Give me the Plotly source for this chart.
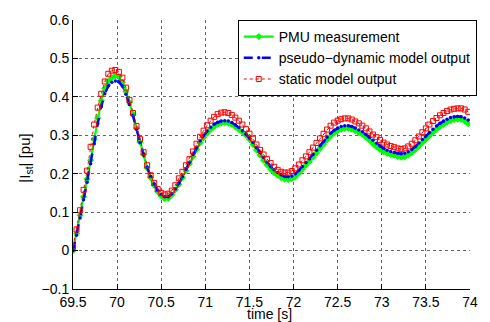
import plotly.graph_objects as go

time_s = [69.50, 69.54, 69.58, 69.62, 69.66, 69.70, 69.74, 69.78, 69.82, 69.86,
          69.90, 69.94, 69.98, 70.02, 70.06, 70.10, 70.14, 70.18, 70.22, 70.26,
          70.30, 70.34, 70.38, 70.42, 70.46, 70.50, 70.54, 70.58, 70.62, 70.66,
          70.70, 70.74, 70.78, 70.82, 70.86, 70.90, 70.94, 70.98, 71.02, 71.06,
          71.10, 71.14, 71.18, 71.22, 71.26, 71.30, 71.34, 71.38, 71.42, 71.46,
          71.50, 71.54, 71.58, 71.62, 71.66, 71.70, 71.74, 71.78, 71.82, 71.86,
          71.90, 71.94, 71.98, 72.02, 72.06, 72.10, 72.14, 72.18, 72.22, 72.26,
          72.30, 72.34, 72.38, 72.42, 72.46, 72.50, 72.54, 72.58, 72.62, 72.66,
          72.70, 72.74, 72.78, 72.82, 72.86, 72.90, 72.94, 72.98, 73.02, 73.06,
          73.10, 73.14, 73.18, 73.22, 73.26, 73.30, 73.34, 73.38, 73.42, 73.46,
          73.50, 73.54, 73.58, 73.62, 73.66, 73.70, 73.74, 73.78, 73.82, 73.86,
          73.90, 73.94, 73.98]

pmu = [0.000, 0.045, 0.092, 0.140, 0.186, 0.235, 0.290, 0.345, 0.390, 0.422,
       0.440, 0.450, 0.455, 0.452, 0.438, 0.414, 0.385, 0.355, 0.318, 0.282,
       0.250, 0.215, 0.190, 0.170, 0.153, 0.142, 0.135, 0.136, 0.145, 0.158,
       0.172, 0.190, 0.208, 0.226, 0.245, 0.263, 0.280, 0.294, 0.305, 0.315,
       0.323, 0.329, 0.332, 0.333, 0.332, 0.328, 0.322, 0.315, 0.308, 0.300,
       0.290, 0.276, 0.262, 0.248, 0.235, 0.223, 0.212, 0.203, 0.196, 0.190,
       0.186, 0.185, 0.187, 0.192, 0.202, 0.212, 0.222, 0.232, 0.243, 0.254,
       0.266, 0.277, 0.288, 0.298, 0.306, 0.312, 0.316, 0.318, 0.318, 0.316,
       0.312, 0.307, 0.302, 0.295, 0.287, 0.278, 0.270, 0.263, 0.257, 0.253,
       0.250, 0.248, 0.245, 0.243, 0.244, 0.249, 0.255, 0.263, 0.272, 0.281,
       0.290, 0.299, 0.308, 0.316, 0.323, 0.329, 0.334, 0.338, 0.341, 0.342,
       0.341, 0.337, 0.330]

pseudo_dynamic = [0.000, 0.040, 0.085, 0.132, 0.178, 0.226, 0.278, 0.330, 0.375, 0.408,
                  0.428, 0.438, 0.441, 0.439, 0.428, 0.407, 0.380, 0.351, 0.316, 0.281,
                  0.250, 0.217, 0.193, 0.173, 0.157, 0.146, 0.140, 0.140, 0.148, 0.160,
                  0.175, 0.192, 0.211, 0.230, 0.250, 0.268, 0.285, 0.299, 0.311, 0.321,
                  0.329, 0.334, 0.337, 0.338, 0.337, 0.333, 0.327, 0.320, 0.312, 0.303,
                  0.293, 0.281, 0.268, 0.255, 0.242, 0.230, 0.219, 0.210, 0.203, 0.197,
                  0.193, 0.192, 0.194, 0.200, 0.209, 0.219, 0.229, 0.239, 0.250, 0.261,
                  0.273, 0.284, 0.295, 0.305, 0.313, 0.319, 0.323, 0.325, 0.325, 0.323,
                  0.319, 0.314, 0.309, 0.302, 0.295, 0.287, 0.279, 0.272, 0.266, 0.261,
                  0.258, 0.255, 0.253, 0.252, 0.253, 0.257, 0.263, 0.271, 0.280, 0.289,
                  0.298, 0.307, 0.316, 0.324, 0.331, 0.337, 0.342, 0.346, 0.348, 0.349,
                  0.348, 0.345, 0.340]

static = [0.010, 0.055, 0.105, 0.158, 0.208, 0.270, 0.328, 0.372, 0.408, 0.440,
          0.460, 0.468, 0.470, 0.465, 0.450, 0.424, 0.392, 0.358, 0.324, 0.290,
          0.256, 0.222, 0.196, 0.176, 0.160, 0.150, 0.146, 0.148, 0.156, 0.170,
          0.188, 0.205, 0.222, 0.238, 0.258, 0.278, 0.296, 0.312, 0.326, 0.338,
          0.348, 0.355, 0.359, 0.360, 0.358, 0.353, 0.346, 0.338, 0.328, 0.316,
          0.304, 0.291, 0.276, 0.262, 0.250, 0.238, 0.228, 0.218, 0.210, 0.205,
          0.203, 0.203, 0.207, 0.214, 0.224, 0.235, 0.245, 0.256, 0.268, 0.280,
          0.292, 0.304, 0.315, 0.325, 0.333, 0.338, 0.342, 0.344, 0.344, 0.341,
          0.336, 0.331, 0.325, 0.318, 0.310, 0.302, 0.295, 0.288, 0.281, 0.276,
          0.272, 0.269, 0.266, 0.264, 0.266, 0.271, 0.278, 0.287, 0.297, 0.308,
          0.318, 0.328, 0.337, 0.345, 0.352, 0.358, 0.363, 0.367, 0.369, 0.370,
          0.370, 0.367, 0.361]

x_ticks = [69.5, 70, 70.5, 71, 71.5, 72, 72.5, 73, 73.5, 74]
x_tick_labels = ["69.5", "70", "70.5", "71", "71.5", "72", "72.5", "73", "73.5", "74"]
y_ticks = [-0.1, 0, 0.1, 0.2, 0.3, 0.4, 0.5, 0.6]
y_tick_labels = ["\u22120.1", "0", "0.1", "0.2", "0.3", "0.4", "0.5", "0.6"]

FONT = "Liberation Sans, Arial, Helvetica, sans-serif"

fig = go.Figure()
fig.add_trace(go.Scatter(
    x=time_s, y=pmu, name="PMU measurement", mode="lines+markers",
    line=dict(color="#00ff00", width=2.2),
    marker=dict(symbol="diamond", size=5.5, color="#00ff00",
                line=dict(width=0))))
fig.add_trace(go.Scatter(
    x=time_s, y=pseudo_dynamic, name="pseudo\u2212dynamic model output",
    mode="lines+markers",
    line=dict(color="#0000ff", width=2.5, dash="dash"),
    marker=dict(symbol="circle", size=3.5, color="#0000ff")))
fig.add_trace(go.Scatter(
    x=time_s, y=static, name="static model output", mode="lines+markers",
    line=dict(color="#ff0000", width=1, dash="dot"),
    marker=dict(symbol="square-open", size=5, color="#ff0000",
                line=dict(width=1, color="#ff0000"))))

axis_common = dict(
    showline=True, linecolor="black", linewidth=1, mirror=False,
    ticks="inside", ticklen=5, tickcolor="black", tickwidth=1,
    showgrid=True, gridcolor="#666666", gridwidth=1, griddash="dot",
    zeroline=False, tickfont=dict(family=FONT, size=14, color="black"),
)

fig.update_xaxes(range=[69.5, 74], tickvals=x_ticks, ticktext=x_tick_labels,
                 **axis_common)
fig.update_yaxes(range=[-0.1, 0.6], tickvals=y_ticks, ticktext=y_tick_labels,
                 **axis_common)

fig.add_annotation(text="time [s]", xref="paper", yref="paper",
                   x=0.496, y=-0.092, xanchor="center", yanchor="middle",
                   showarrow=False, font=dict(family=FONT, size=14, color="black"))
fig.add_annotation(text="|I<sub>st</sub>| [pu]", xref="paper", yref="paper",
                   x=-0.12, y=0.486, xanchor="center", yanchor="middle",
                   textangle=-90, showarrow=False,
                   font=dict(family=FONT, size=15, color="black"))

fig.update_layout(
    width=490, height=322,
    margin=dict(l=73, r=12, t=14, b=30),
    paper_bgcolor="white", plot_bgcolor="white",
    font=dict(family=FONT, size=14, color="black"),
    showlegend=True,
    legend=dict(x=0.415, y=1.0, xanchor="left", yanchor="top",
                bgcolor="white", bordercolor="black", borderwidth=1,
                font=dict(family=FONT, size=14, color="black"),
                itemwidth=30, tracegroupgap=0),
)

fig.write_html("out.html")
